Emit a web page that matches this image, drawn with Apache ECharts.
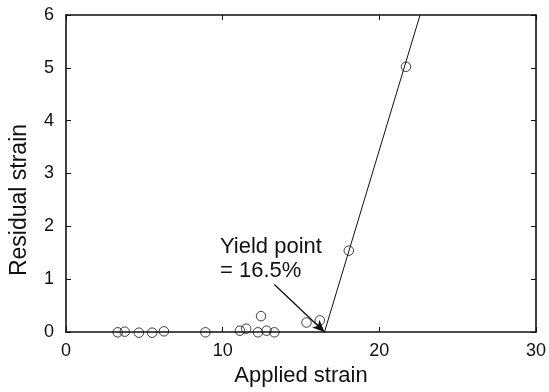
<!DOCTYPE html>
<html>
<head>
<meta charset="utf-8">
<script src="https://cdn.jsdelivr.net/npm/echarts@6/dist/echarts.min.js"></script>
<style>
  html, body { margin: 0; padding: 0; background: #fff; }
  #chart { width: 549px; height: 392px; }
</style>
</head>
<body>
<div id="chart"></div>
<script>
// Measured specimens: applied strain (%) vs residual strain (%)
const appliedStrain  = [3.3, 3.75, 4.65, 5.5, 6.25, 8.9, 11.1, 11.5, 12.25, 12.45, 12.8, 13.3, 15.35, 16.2, 18.05, 21.7];
const residualStrain = [-0.006, 0.006, -0.013, -0.013, 0.013, -0.006, 0.025, 0.063, -0.006, 0.3, 0.025, -0.006, 0.18, 0.22, 1.54, 5.02];

// Straight-line fit above the yield point
const fitStrain    = [16.5, 22.6];
const fitResidual  = [0, 6];

// Yield point annotation: arrow tail and head
const yieldPoint   = 16.5;
const arrowTail    = [13.3, 0.9];

const xTicks = { min: 0, max: 30, interval: 10 };
const yTicks = { min: 0, max: 6, interval: 1 };

const ink = '#111';
const font = '"Liberation Sans", Arial, Helvetica, sans-serif';

const points = appliedStrain.map((x, i) => [x, residualStrain[i]]);
const fitLine = fitStrain.map((x, i) => [x, fitResidual[i]]);

const frameAxis = (extra) => Object.assign({
  type: 'value',
  splitLine: { show: false },
  axisLine: { show: true, onZero: false, lineStyle: { color: ink, width: 1.6 } },
  axisTick: { show: true, inside: true, length: 5, lineStyle: { color: ink, width: 1 } },
}, extra);

const chart = echarts.init(document.getElementById('chart'), null, { renderer: 'canvas' });

chart.setOption({
  backgroundColor: '#fff',
  animation: false,
  grid: { left: 66, right: 11, top: 15, bottom: 60 },
  xAxis: [
    frameAxis({
      min: xTicks.min, max: xTicks.max, interval: xTicks.interval,
      position: 'bottom',
      name: 'Applied strain',
      nameLocation: 'middle',
      nameGap: 33,
      nameTextStyle: { color: ink, fontSize: 22, fontFamily: font },
      axisLabel: { color: ink, fontSize: 18, fontFamily: font, margin: 10 }
    }),
    frameAxis({
      min: xTicks.min, max: xTicks.max, interval: xTicks.interval,
      position: 'top',
      axisLabel: { show: false }
    })
  ],
  yAxis: [
    frameAxis({
      min: yTicks.min, max: yTicks.max, interval: yTicks.interval,
      position: 'left',
      axisLabel: { color: ink, fontSize: 18, fontFamily: font, margin: 12 }
    }),
    frameAxis({
      min: yTicks.min, max: yTicks.max, interval: yTicks.interval,
      position: 'right',
      axisLabel: { show: false }
    })
  ],
  series: [
    {
      type: 'line',
      data: fitLine,
      symbol: 'none',
      lineStyle: { color: ink, width: 1 },
      z: 2
    },
    {
      type: 'scatter',
      data: points,
      clip: false,
      symbol: 'circle',
      symbolSize: 9.5,
      itemStyle: { color: 'rgba(255,255,255,0)', borderColor: ink, borderWidth: 1 },
      z: 3,
      markLine: {
        silent: true,
        symbol: ['none', 'arrow'],
        symbolSize: [8, 12],
        lineStyle: { color: ink, width: 1.3, type: 'solid' },
        label: { show: false },
        data: [[{ coord: arrowTail }, { coord: [yieldPoint, 0] }]]
      }
    }
  ],
  graphic: [
    {
      // vertical axis title
      type: 'text',
      x: 20,
      y: 200,
      rotation: Math.PI / 2,
      style: {
        text: 'Residual strain',
        fill: ink,
        font: '23px ' + font,
        align: 'center',
        verticalAlign: 'middle'
      }
    },
    {
      type: 'text',
      left: 220,
      top: 235,
      style: {
        text: 'Yield point\n= ' + yieldPoint + '%',
        fill: ink,
        font: '22px ' + font,
        lineHeight: 24
      }
    }
  ]
});
</script>
</body>
</html>
